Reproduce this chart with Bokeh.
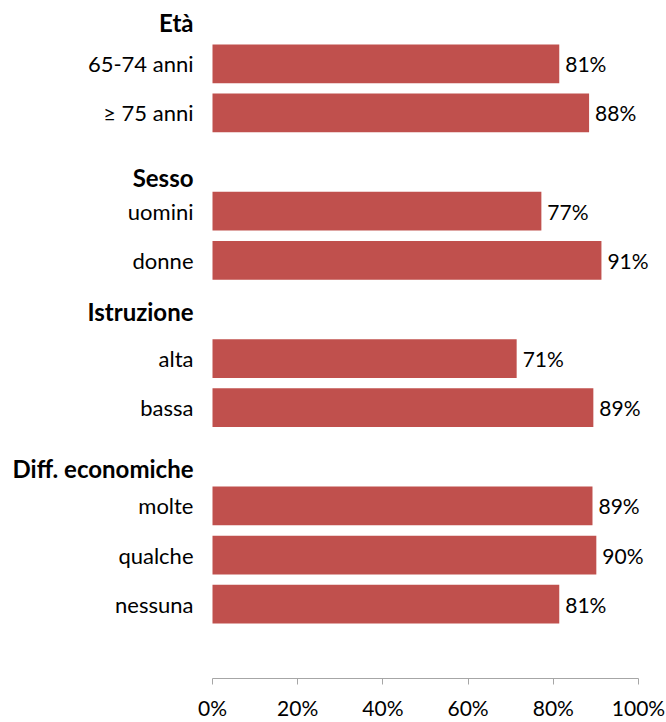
from bokeh.plotting import figure
from bokeh.models import ColumnDataSource, Range1d, FixedTicker, PrintfTickFormatter, LabelSet
from bokeh.core.properties import value
from bokeh.embed import file_html
from bokeh.resources import INLINE

# ---- data ----
groups = ["Età", "Sesso", "Istruzione", "Diff. economiche"]
age_items = ["65-74 anni", "≥ 75 anni"]
age_values = [81.4, 88.4]
sex_items = ["uomini", "donne"]
sex_values = [77.2, 91.3]
edu_items = ["alta", "bassa"]
edu_values = [71.4, 89.4]
eco_items = ["molte", "qualche", "nessuna"]
eco_values = [89.2, 90.1, 81.4]
x_ticks = [0, 20, 40, 60, 80, 100]

group_items = [age_items, sex_items, edu_items, eco_items]
group_values = [age_values, sex_values, edu_values, eco_values]

# header nudges in px (layout only)
header_nudge = [-8, -15, -2, -12]

# ---- build rows ----
rows, names, vals, labels = [], [], [], []
h_rows, h_names, h_off = [], [], []
r = 0
for g, items, values, nud in zip(groups, group_items, group_values, header_nudge):
    h_rows.append(r)
    h_names.append(g)
    h_off.append(nud)
    r += 1
    for it, v in zip(items, values):
        rows.append(r)
        names.append(it)
        vals.append(v)
        labels.append(f"{round(v)}%")
        r += 1

src = ColumnDataSource(dict(row=rows, name=names, value=vals, label=labels, zero=[0] * len(rows)))
hsrc = ColumnDataSource(dict(row=h_rows, name=h_names, off=h_off, zero=[0] * len(h_rows)))

FONT = value("Lato")

W, H = 666, 722
X0_PX, X100_PX = 212.0, 638.0
ppu = (X100_PX - X0_PX) / 100.0
x_start = -X0_PX / ppu
x_end = 100 + (W - X100_PX) / ppu

p = figure(width=W, height=H, output_backend="svg", toolbar_location=None,
           x_range=Range1d(x_start, x_end), y_range=Range1d(13.513, -0.289),
           min_border_left=0, min_border_right=0, min_border_top=0, min_border_bottom=42)
p.outline_line_color = None
p.xgrid.visible = False
p.ygrid.visible = False
p.yaxis.visible = False

p.hbar(y="row", left=0, right="value", height=0.79, source=src,
       fill_color="#C0504D", line_color=None)

val_labels = LabelSet(x="value", y="row", text="label", source=src, x_offset=6,
                      text_baseline="middle", text_align="left",
                      text_font=FONT, text_font_size="21px", text_color="#000000")
p.add_layout(val_labels)

cat_labels = LabelSet(x="zero", y="row", text="name", source=src, x_offset=-19,
                      text_baseline="middle", text_align="right",
                      text_font=FONT, text_font_size="22px", text_color="#000000")
p.add_layout(cat_labels)

hdr_labels = LabelSet(x="zero", y="row", text="name", source=hsrc, x_offset=-19,
                      y_offset="off",
                      text_baseline="middle", text_align="right",
                      text_font=FONT, text_font_size="24px", text_font_style="bold",
                      text_color="#000000")
p.add_layout(hdr_labels)

ax = p.xaxis[0]
ax.ticker = FixedTicker(ticks=x_ticks)
ax.bounds = (0, 100)
ax.formatter = PrintfTickFormatter(format="%d%%")
ax.axis_line_color = "#A6A6A6"
ax.major_tick_line_color = "#A6A6A6"
ax.major_tick_out = 6
ax.major_tick_in = 0
ax.minor_tick_line_color = None
ax.major_label_text_font = "Lato"
ax.major_label_text_font_size = "21px"
ax.major_label_text_color = "#000000"
ax.major_label_standoff = 10

open("out.html", "w").write(file_html(p, INLINE))
